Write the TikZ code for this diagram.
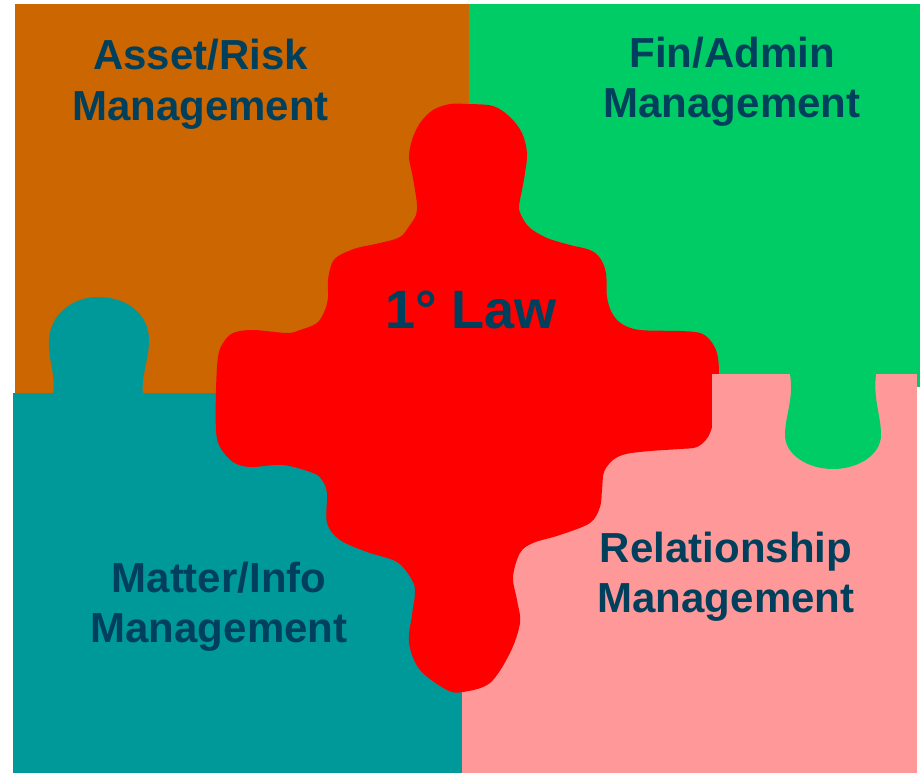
\documentclass[tikz,border=0pt]{standalone}
\usepackage{fontspec}
\setmainfont{Liberation Sans}
\definecolor{brownc}{HTML}{CC6600}
\definecolor{greenc}{HTML}{00CC66}
\definecolor{tealc}{HTML}{009999}
\definecolor{pinkc}{HTML}{FF9999}
\definecolor{redc}{HTML}{FF0000}
\definecolor{textc}{RGB}{0,64,92}
\tikzset{
  label/.style={text=textc, font=\bfseries\fontsize{42}{50.5}\selectfont, align=center, anchor=base, inner sep=0pt},
  biglabel/.style={text=textc, font=\bfseries\fontsize{54}{60}\selectfont, anchor=base, inner sep=0pt}
}
\begin{document}
\begin{tikzpicture}[x=1pt,y=-1pt]
\useasboundingbox (0,0) rectangle (924,773);
% quadrants
\fill[brownc] (15,4) rectangle (469,394);
\fill[greenc] (469,4) rectangle (920,387);
\fill[tealc] (13,393) rectangle (462,773);
\fill[pinkc] (462,374) rectangle (917,773);
% teal knob
\fill[tealc] (53,394) .. controls (56,375) and (48,360) .. (49,340)
  .. controls (50,315) and (72,297) .. (98,297)
  .. controls (128,297) and (149,315) .. (149,340)
  .. controls (149,360) and (141,375) .. (143,394) -- cycle;
% red centre piece
\fill[redc] plot[smooth cycle, tension=0.55] coordinates {
(450,104) (467,104) (493,106) (510,117) (522,133) (527,153) (525,173) (522,190)
(519,207) (522,217) (530,228) (547,238) (570,245) (590,250) (600,258) (606,273)
(607,297) (612,313) (622,324) (640,330) (680,331) (700,333) (710,340) (717,353)
(719,373) (717,400) (714,420) (708,437) (697,447) (680,449) (650,451) (626,454)
(613,460) (604,472) (602,490) (600,507) (590,523) (560,535) (533,543) (520,553)
(513,577) (517,600) (520,623) (510,653) (490,683) (463,692) (447,690) (420,670)
(409,643) (412,615) (415,593) (412,580) (397,562) (367,552) (340,540) (327,523)
(327,493) (322,480) (313,473) (283,465) (250,467) (233,462) (220,447) (216,430)
(216,390) (218,357) (223,343) (233,333) (253,330) (287,333) (300,330) (317,323)
(325,310) (328,297) (328,280) (332,263) (340,255) (357,248) (380,243) (400,237)
(410,225) (416,215) (417,205) (415,190) (412,173) (409,157) (412,140) (420,123)
(433,110)};
\fill[pinkc] (712,374) rectangle (725,460);
% green knob
\fill[greenc] (790,374) .. controls (794,400) and (785,415) .. (785,435)
  .. controls (785,455) and (808,469) .. (833,469)
  .. controls (858,469) and (881,455) .. (881,435)
  .. controls (881,415) and (873,400) .. (876,374) -- cycle;
% labels (anchor = baseline of last line)
\node[label] (asset) at (200.5,120.5) {Asset/Risk\\Management};
\node[label] (fin) at (732,118) {Fin/Admin\\Management};
\node[label] (matter) at (219,642.5) {Matter/Info\\Management};
\node[label] (rel) at (726,612.5) {Relationship\\Management};
\node[biglabel] (law) at (471,328) {1° Law};
\end{tikzpicture}
\end{document}
